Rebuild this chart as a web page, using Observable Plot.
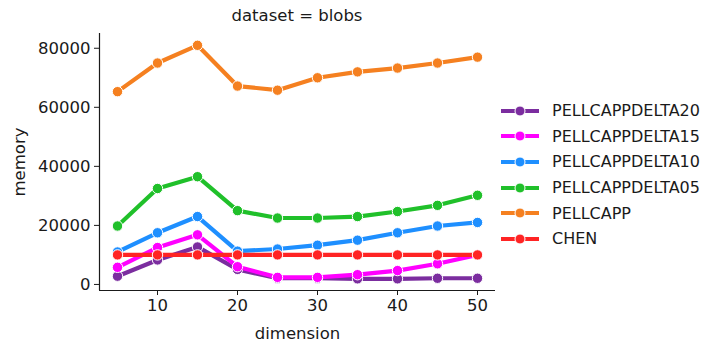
<!DOCTYPE html>
<html>
<head>
<meta charset="utf-8">
<script src="https://cdn.jsdelivr.net/npm/d3@7"></script>
<script src="https://cdn.jsdelivr.net/npm/@observablehq/plot@0.6"></script>
<style>
  body { margin: 0; background: #fff; }
  #wrap { position: relative; width: 713px; height: 347px; font-family: "DejaVu Sans", sans-serif; color: #1a1a1a; }
  #title { position: absolute; top: 6px; left: 99px; width: 396px; text-align: center; font-size: 16.5px; }
  #legend { position: absolute; left: 501px; top: 98px; font-size: 16px; }
  .row { display: flex; align-items: center; height: 25.6px; }
  .row svg { margin-right: 13px; }
</style>
</head>
<body>
<div id="wrap">
  <div id="chart"></div>
  <div id="title">dataset = blobs</div>
  <div id="legend"></div>
</div>
<script>
const dimensions = [5, 10, 15, 20, 25, 30, 35, 40, 45, 50];
const seriesNames = ["PELLCAPPDELTA20", "PELLCAPPDELTA15", "PELLCAPPDELTA10", "PELLCAPPDELTA05", "PELLCAPP", "CHEN"];
const seriesColors = ["#7b2d9f", "#ff00ff", "#1e8fff", "#20c02a", "#f58020", "#ff2424"];
const delta20 = [2800, 8300, 12700, 5100, 2100, 2100, 1900, 1900, 2100, 2100];
const delta15 = [5800, 12500, 16800, 6000, 2400, 2400, 3300, 4700, 7000, 10000];
const delta10 = [11000, 17500, 23000, 11300, 12000, 13300, 15000, 17500, 19800, 21000];
const delta05 = [19800, 32500, 36500, 25000, 22500, 22500, 23000, 24700, 26800, 30200];
const pellcapp = [65300, 75000, 81000, 67200, 65800, 70000, 72000, 73300, 75000, 77000];
const chen = [10000, 10000, 10000, 10000, 10000, 10000, 10000, 10000, 10000, 10000];
const seriesValues = [delta20, delta15, delta10, delta05, pellcapp, chen];
const xTicks = [10, 20, 30, 40, 50];
const yTicks = [0, 20000, 40000, 60000, 80000];
const xDomain = [2.75, 52.25];
const yDomain = [-2050, 85000];

const data = [];
seriesNames.forEach((s, i) => {
  dimensions.forEach((d, j) => data.push({series: s, dimension: d, memory: seriesValues[i][j]}));
});

const marks = [];
seriesNames.forEach(s => {
  const sub = data.filter(d => d.series === s);
  marks.push(Plot.line(sub, {x: "dimension", y: "memory", stroke: "series", strokeWidth: 4.2}));
  marks.push(Plot.dot(sub, {x: "dimension", y: "memory", fill: "series", stroke: "white", strokeWidth: 1, r: 5.2}));
});

const chart = Plot.plot({
  width: 713,
  height: 347,
  marginLeft: 99,
  marginRight: 218,
  marginTop: 33,
  marginBottom: 57,
  style: {fontFamily: "DejaVu Sans, sans-serif", fontSize: "16px", color: "#1a1a1a", background: "#fff"},
  x: {domain: xDomain},
  y: {domain: yDomain},
  color: {domain: seriesNames, range: seriesColors},
  marks: [
    Plot.axisX({ticks: xTicks, tickSize: 5, tickPadding: 4, label: "dimension", labelAnchor: "center", labelArrow: "none", labelOffset: 48, fontSize: 16.5}),
    Plot.axisY({ticks: yTicks, tickSize: 5, tickPadding: 4, tickFormat: d => String(d), label: "memory", labelAnchor: "center", labelArrow: "none", labelOffset: 86, fontSize: 16.5}),
    Plot.ruleX([xDomain[0]], {stroke: "#1a1a1a", strokeWidth: 1.2}),
    Plot.ruleY([yDomain[0]], {stroke: "#1a1a1a", strokeWidth: 1.2}),
    ...marks
  ]
});
document.getElementById("chart").appendChild(chart);

const legend = document.getElementById("legend");
seriesNames.forEach((s, i) => {
  const row = document.createElement("div");
  row.className = "row";
  const c = seriesColors[i];
  row.innerHTML = `<svg width="38" height="12"><line x1="0" x2="38" y1="6" y2="6" stroke="${c}" stroke-width="4"/><circle cx="19" cy="6" r="5" fill="${c}" stroke="white" stroke-width="1"/></svg><span>${s}</span>`;
  legend.appendChild(row);
});
</script>
</body>
</html>
